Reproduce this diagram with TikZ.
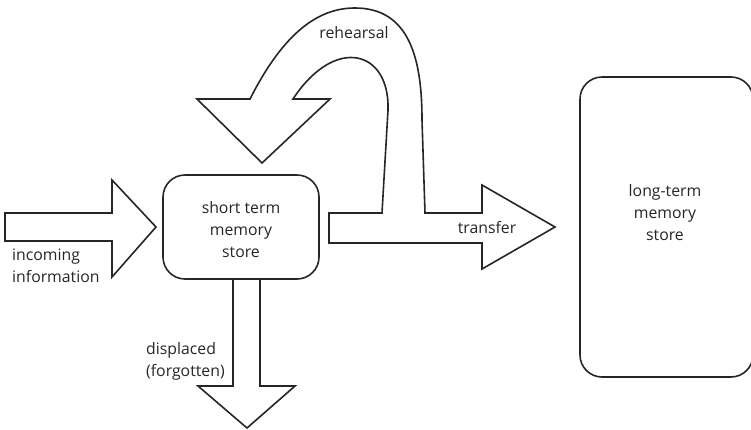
\documentclass[tikz,border=0pt]{standalone}
\usepackage{fontspec}
\setmainfont{Open Sans}
\tikzset{
  outline/.style={draw=black!85, line width=1.6pt, line join=miter, fill=white},
  storebox/.style={draw=black!85, line width=1.6pt, rounded corners=22pt, fill=white},
  lbl/.style={font=\fontsize{15.8}{22}\selectfont, text=black!85, inner sep=0pt, align=center},
  lbll/.style={lbl, align=left, anchor=west},
}
\begin{document}
\begin{tikzpicture}[x=1pt, y=-1pt]
\useasboundingbox (0,0) rectangle (751,429);
\clip (0,0) rectangle (751,429);

% store boxes
\draw[storebox] (163,175) rectangle (319,279);
\draw[storebox] (580,77) rectangle (753,377);
\node[lbl] (stm) at (241,230) {short term\\memory\\store};
\node[lbl] (ltm) at (665,213) {long-term\\memory\\store};

% incoming information arrow
\draw[outline] (5,213) -- (112,213) -- (112,180) -- (156,227) -- (112,277)
  -- (112,241) -- (5,241) -- cycle;
\node[lbll] (inc) at (12,266) {incoming\\information};

% displaced arrow, hanging from the box
\draw[outline] (233,280) -- (233,386) -- (198,386) -- (247,428) -- (295,386)
  -- (260,386) -- (260,280);
\node[lbll] (disp) at (146,361) {displaced\\(forgotten)};

% transfer arrow joined with the rehearsal loop
\draw[outline] (329,213) -- (382,213) -- (388,110)
  .. controls (390,50) and (335,35) .. (293,99)
  -- (330,99) -- (262,163) -- (197,99) -- (250,99)
  .. controls (285,30) and (320,8) .. (355,8)
  .. controls (410,8) and (422,60) .. (422,120)
  -- (425,213) -- (482,213) -- (482,185) -- (555,227) -- (482,269)
  -- (482,243) -- (329,243) -- cycle;
\node[lbl] (reh) at (354,33) {rehearsal};
\node[lbl] (tra) at (487,228) {transfer};
\end{tikzpicture}
\end{document}
